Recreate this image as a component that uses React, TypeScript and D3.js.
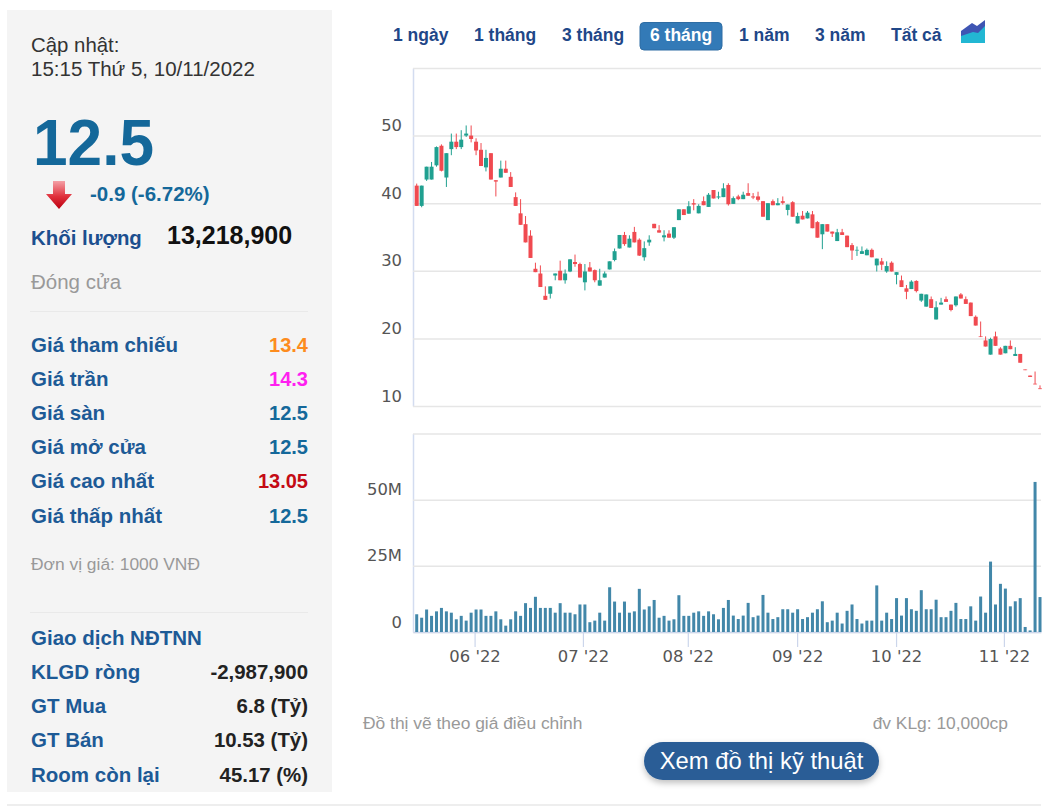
import { useEffect, useRef } from "react";
import * as d3 from "d3";

const opens = [
  42.6, 39.6, 43.5, 43.5, 45.6, 48.5, 43.8, 48.0, 49.1, 48.3,
  50.0, 50.0, 49.1, 47.9, 45.3, 47.4, 43.4, 43.8, 45.1, 43.9,
  40.9, 38.5, 36.9, 35.2, 30.3, 29.6, 26.3, 26.6, 29.3, 30.0,
  28.6, 29.9, 31.3, 31.0, 28.3, 30.5, 30.1, 27.8, 29.0, 30.2,
  31.6, 33.3, 35.3, 33.45, 35.75, 34.6, 32.0, 34.2, 36.95, 36.0,
  34.95, 35.5, 34.9, 37.5, 39.1, 38.45, 40.0, 38.5, 40.3, 39.45,
  41.95, 40.85, 40.9, 42.7, 39.9, 41.0, 40.6, 41.5, 41.0, 41.0,
  40.3, 37.5, 40.3, 39.7, 40.3, 39.0, 40.15, 37.0, 38.15, 37.75,
  38.35, 37.2, 35.4, 36.9, 35.8, 34.4, 35.7, 35.2, 33.8, 33.0,
  32.5, 32.3, 33.1, 30.8, 31.4, 29.9, 31.2, 29.4, 28.6, 27.4,
  27.3, 28.5, 25.6, 24.7, 25.8, 22.8, 25.0, 25.8, 25.0, 24.9,
  26.5, 25.8, 25.3, 23.2, 20.3, 19.7, 17.6, 20.3, 18.5, 17.8,
  18.9, 17.4, 17.7, 15.4, 14.5, 13.3, 12.6,
];
const closes = [
  39.6, 42.6, 45.4, 45.4, 48.3, 44.8, 47.4, 49.1, 48.3, 49.4,
  50.3, 49.5, 47.8, 45.5, 46.7, 43.5, 43.2, 45.1, 44.5, 42.4,
  39.6, 36.8, 34.2, 31.9, 29.8, 27.6, 25.7, 27.7, 29.6, 28.6,
  29.6, 31.7, 31.0, 29.0, 29.9, 29.9, 28.6, 28.6, 29.6, 31.4,
  32.9, 35.3, 33.95, 34.75, 34.2, 32.25, 33.35, 34.6, 36.3, 35.65,
  35.25, 34.9, 36.45, 39.1, 38.25, 39.55, 39.8, 39.6, 39.7, 41.25,
  40.7, 41.0, 42.2, 39.85, 40.75, 40.6, 41.25, 41.1, 40.85, 40.5,
  38.0, 40.0, 39.7, 40.0, 40.05, 39.8, 38.0, 38.1, 37.6, 38.6,
  36.3, 34.9, 36.9, 35.8, 35.5, 35.7, 35.3, 33.5, 33.0, 33.1,
  32.9, 33.1, 32.0, 31.8, 30.9, 30.7, 29.9, 29.8, 27.6, 26.9,
  28.4, 27.0, 26.6, 26.5, 24.5, 24.6, 25.3, 25.4, 24.2, 26.2,
  25.9, 25.1, 23.3, 21.9, 20.2, 18.8, 19.9, 18.9, 17.6, 18.9,
  18.4, 17.7, 16.4, 15.3, 14.3, 13.2, 12.5,
];
const highs = [
  42.9, 42.6, 45.4, 46.1, 48.4, 48.7, 47.4, 50.3, 50.3, 50.8,
  51.5, 51.5, 49.6, 48.9, 47.9, 47.4, 43.4, 46.3, 46.3, 44.6,
  41.6, 40.6, 38.1, 36.0, 31.2, 30.8, 27.7, 27.7, 29.6, 31.5,
  30.2, 31.7, 32.4, 31.2, 31.0, 31.3, 30.2, 30.3, 29.9, 31.4,
  33.3, 35.3, 35.75, 35.25, 36.5, 34.8, 34.35, 35.25, 36.95, 36.75,
  36.0, 36.0, 36.45, 39.1, 39.1, 40.3, 40.6, 39.85, 41.0, 41.5,
  41.95, 41.7, 42.95, 42.95, 41.0, 41.25, 41.7, 42.95, 41.5, 41.7,
  40.3, 40.0, 40.55, 40.75, 41.0, 39.8, 40.3, 38.6, 38.85, 38.85,
  38.85, 37.35, 36.9, 36.9, 35.8, 36.2, 36.2, 35.2, 34.1, 33.6,
  33.6, 33.3, 33.3, 31.8, 31.9, 31.4, 31.4, 29.8, 29.3, 27.9,
  28.6, 28.6, 26.6, 26.5, 26.2, 25.5, 26.0, 26.2, 25.0, 26.2,
  26.7, 26.2, 25.3, 23.4, 22.5, 20.3, 20.1, 21.0, 18.7, 18.9,
  19.7, 18.7, 17.7, 15.4, 14.5, 15.1, 13.05,
];
const lows = [
  39.6, 39.4, 43.3, 43.5, 45.4, 44.7, 42.4, 47.1, 48.0, 48.0,
  49.8, 49.0, 47.1, 45.5, 44.7, 43.5, 41.0, 43.8, 44.5, 42.4,
  39.6, 36.8, 34.2, 31.9, 29.8, 27.6, 25.7, 25.9, 28.6, 28.6,
  28.1, 29.8, 30.6, 29.0, 27.1, 29.9, 28.3, 27.8, 29.0, 30.2,
  31.4, 33.3, 33.7, 33.45, 34.2, 32.2, 31.5, 33.7, 36.3, 35.65,
  34.35, 34.9, 34.7, 37.5, 38.25, 38.45, 38.95, 38.5, 39.7, 39.45,
  40.7, 40.6, 40.9, 39.65, 39.9, 40.45, 40.6, 41.1, 40.6, 40.25,
  38.0, 37.5, 39.7, 39.7, 39.8, 38.2, 38.0, 37.0, 37.6, 37.75,
  36.3, 34.9, 33.2, 35.8, 35.0, 34.4, 35.3, 33.5, 31.6, 32.2,
  32.5, 32.3, 32.0, 29.9, 30.1, 29.7, 29.9, 28.0, 27.6, 25.8,
  27.3, 26.8, 25.4, 24.7, 24.5, 22.8, 25.0, 25.4, 24.0, 24.7,
  25.9, 25.1, 23.3, 21.9, 20.2, 18.8, 17.6, 18.9, 17.6, 17.8,
  18.4, 17.4, 16.4, 15.3, 14.3, 13.2, 12.5,
];
// million shares
const volumes = [
  6.7, 5.4, 8.5, 6.1, 7.8, 9.1, 7.8, 7.3, 4.8, 6.1,
  4.3, 7.3, 8.5, 8.5, 6.1, 6.1, 7.8, 4.8, 2.4, 4.8,
  7.8, 6.1, 10.9, 9.1, 13.3, 9.1, 9.1, 9.1, 7.3, 10.9,
  7.3, 7.3, 6.7, 10.4, 10.4, 3.7, 4.3, 7.3, 4.3, 16.9,
  11.5, 7.3, 11.5, 7.3, 7.8, 16.3, 8.5, 9.7, 12.1, 5.4,
  6.1, 4.3, 4.8, 13.9, 6.1, 6.1, 7.3, 7.8, 6.1, 7.8,
  6.7, 4.8, 9.1, 12.1, 6.2, 4.9, 6.2, 11, 5.6, 6.2,
  14, 7.3, 4.9, 5.6, 8.6, 8.6, 7.3, 8.6, 4.9, 5.6,
  7.3, 8.6, 11.6, 3.7, 4.3, 7.3, 3.2, 8, 10.4, 4.9,
  3.2, 4.3, 4.3, 17.6, 4.3, 7.3, 4.9, 12.8, 6.2, 12.8,
  8.6, 8, 15.8, 8.6, 8.6, 12.2, 5.6, 5.6, 8, 11,
  4.9, 4.9, 9.7, 4.3, 13.4, 7.3, 26.6, 10.4, 18.2, 16.4,
  9.7, 11.6, 12.8, 1.9, 0.6, 56.7, 13.2,
];

const priceTicks = [10, 20, 30, 40, 50, 60];
const volumeTicks = [0, 25, 50, 75];
const monthLabels = ["06 '22", "07 '22", "08 '22", "09 '22", "10 '22", "11 '22"];
const monthPositions = [11.7, 33.6, 54.8, 76.9, 96.9, 118.7];

const ranges = [
  { label: "1 ngày", x: 393 },
  { label: "1 tháng", x: 474 },
  { label: "3 tháng", x: 562 },
  { label: "6 tháng", x: 650 },
  { label: "1 năm", x: 739 },
  { label: "3 năm", x: 815 },
  { label: "Tất cả", x: 891 },
];
const priceRows = [
  ["Giá tham chiếu", "13.4", "#fd8c1e"],
  ["Giá trần", "14.3", "#ff1ff0"],
  ["Giá sàn", "12.5", "#14689a"],
  ["Giá mở cửa", "12.5", "#14689a"],
  ["Giá cao nhất", "13.05", "#c40a14"],
  ["Giá thấp nhất", "12.5", "#14689a"],
];
const priceRowY = [352, 386, 420, 454, 488, 523];
const foreignRows = [
  ["Giao dịch NĐTNN", ""],
  ["KLGD ròng", "-2,987,900"],
  ["GT Mua", "6.8 (Tỷ)"],
  ["GT Bán", "10.53 (Tỷ)"],
  ["Room còn lại", "45.17 (%)"],
];
const foreignRowY = [645, 679, 713, 747, 782];

const SANS = "'Liberation Sans', Arial, sans-serif";
const AXIS_FONT = "'DejaVu Sans', Verdana, sans-serif";
const UP = "#20a090";
const DOWN = "#f04a50";

export default function App() {
  const chartRef = useRef<SVGGElement>(null);

  useEffect(() => {
    if (!chartRef.current) return;
    const root = d3.select(chartRef.current);
    root.selectAll("*").remove();

    const x = d3.scaleLinear().domain([-0.75, 126.2]).range([413, 1041]);
    const yPrice = d3.scaleLinear().domain([10, 60]).range([406, 68]);
    const yVol = d3.scaleLinear().domain([0, 75]).range([632, 433.5]);
    const idx = d3.range(opens.length);

    /* price axis + grid */
    const priceAxis = d3.axisLeft(yPrice)
      .tickValues(priceTicks)
      .tickSize(-(1041 - 413))
      .tickSizeOuter(0)
      .tickPadding(11)
      .tickFormat((v: any) => (v === 60 ? "" : String(v)));
    const gp = root.append("g").attr("transform", "translate(413,0)").call(priceAxis as any);

    /* volume axis + grid */
    const volAxis = d3.axisLeft(yVol)
      .tickValues(volumeTicks)
      .tickSize(-(1041 - 413))
      .tickSizeOuter(0)
      .tickPadding(11)
      .tickFormat((v: any) => (v === 75 ? "" : v === 0 ? "0" : `${v}M`));
    const gv = root.append("g").attr("transform", "translate(413,0)").call(volAxis as any);

    [gp, gv].forEach((g) => {
      g.select(".domain").attr("stroke", "#d3dcf0").attr("stroke-width", 1.5);
      g.selectAll(".tick line").attr("stroke", "#e6e6e6").attr("stroke-width", 1.5);
      g.selectAll("text")
        .attr("dy", 0).attr("y", -5)
        .attr("font-family", AXIS_FONT).attr("font-size", 16.4).attr("fill", "#555");
    });

    /* month axis */
    const monthAxis = d3.axisBottom(x)
      .tickValues(monthPositions)
      .tickSize(15)
      .tickSizeOuter(0)
      .tickPadding(3.4)
      .tickFormat((_: any, i: number) => monthLabels[i]);
    const gx = root.append("g").attr("transform", "translate(0,632)").call(monthAxis as any);
    gx.select(".domain").attr("stroke", "#ccd6eb").attr("stroke-width", 1.5);
    gx.selectAll(".tick line").attr("stroke", "#ccd6eb").attr("stroke-width", 1.2);
    gx.selectAll("text").attr("font-family", AXIS_FONT).attr("font-size", 16.4).attr("fill", "#555");

    /* volume */
    root.append("g").selectAll("rect").data(idx).join("rect")
      .attr("x", (i) => x(i) - 1.5)
      .attr("width", 3)
      .attr("y", (i) => yVol(volumes[i]))
      .attr("height", (i) => yVol(0) - yVol(volumes[i]))
      .attr("fill", "#4287a9");

    /* candles */
    const candles = root.append("g").selectAll("g").data(idx).join("g");
    candles.append("line")
      .attr("x1", (i) => x(i)).attr("x2", (i) => x(i))
      .attr("y1", (i) => yPrice(highs[i])).attr("y2", (i) => yPrice(lows[i]))
      .attr("stroke", (i) => (closes[i] >= opens[i] ? UP : DOWN))
      .attr("stroke-width", 1);
    candles.append("rect")
      .attr("x", (i) => x(i) - 2)
      .attr("width", 4)
      .attr("y", (i) => yPrice(Math.max(opens[i], closes[i])))
      .attr("height", (i) => Math.abs(yPrice(opens[i]) - yPrice(closes[i])))
      .attr("fill", (i) => (closes[i] >= opens[i] ? UP : DOWN));
  }, []);

  const txt = { fontFamily: SANS };

  return (
    <svg
      width={1058}
      height={810}
      style={{ position: "absolute", left: 0, top: 0, display: "block", background: "#fff" }}
    >
      <defs>
        <linearGradient id="arrowFill" x1="0" y1="0" x2="0" y2="1">
          <stop offset="0" stopColor="#f4a0a6" />
          <stop offset="0.55" stopColor="#e0303c" />
          <stop offset="1" stopColor="#bb0010" />
        </linearGradient>
        <filter id="btnShadow" x="-10%" y="-30%" width="120%" height="170%">
          <feDropShadow dx="0" dy="3" stdDeviation="3" floodColor="#000" floodOpacity="0.25" />
        </filter>
      </defs>

      {/* left panel */}
      <rect x={7} y={10} width={325} height={782} fill="#f4f4f4" />
      <g style={txt}>
        <text x={31} y={52} fontSize={20.4} fill="#333">Cập nhật:</text>
        <text x={31} y={76} fontSize={20.5} fill="#333">15:15 Thứ 5, 10/11/2022</text>
        <text x={33} y={165} fontSize={65} fontWeight={700} fill="#14689a" textLength={121} lengthAdjust="spacingAndGlyphs">12.5</text>
        <path d="M53 181H65V194H72L59 209L46 194H53Z" fill="url(#arrowFill)" />
        <text x={90} y={201} fontSize={20.5} fontWeight={700} fill="#14689a">-0.9 (-6.72%)</text>
        <text x={31} y={245} fontSize={20.4} fontWeight={700} fill="#1c4f8f">Khối lượng</text>
        <text x={167} y={244} fontSize={25} fontWeight={700} fill="#111">13,218,900</text>
        <text x={31} y={289} fontSize={20.5} fill="#999">Đóng cửa</text>
        <line x1={30} x2={308} y1={311.5} y2={311.5} stroke="#e9e9e9" />
        {priceRows.map((r, i) => (
          <g key={r[0]}>
            <text x={31} y={priceRowY[i]} fontSize={20.5} fontWeight={700} fill="#1d5a96">{r[0]}</text>
            <text x={308} y={priceRowY[i]} fontSize={20} fontWeight={700} fill={r[2]} textAnchor="end">{r[1]}</text>
          </g>
        ))}
        <text x={31} y={570} fontSize={17.4} fill="#999">Đơn vị giá: 1000 VNĐ</text>
        <line x1={30} x2={308} y1={612.5} y2={612.5} stroke="#e9e9e9" />
        {foreignRows.map((r, i) => (
          <g key={r[0]}>
            <text x={31} y={foreignRowY[i]} fontSize={20.5} fontWeight={700} fill="#1d5a96">{r[0]}</text>
            <text x={308} y={foreignRowY[i]} fontSize={20.4} fontWeight={700} fill="#222" textAnchor="end">{r[1]}</text>
          </g>
        ))}
      </g>
      <line x1={7} x2={1041} y1={805} y2={805} stroke="#e9e9e9" strokeWidth={1.5} />

      {/* range selector */}
      <rect x={640} y={22.5} width={82} height={27.5} rx={4} fill="#337ab7" stroke="#2e6da4" />
      <g style={txt}>
        {ranges.map((r) => (
          <text
            key={r.label}
            x={r.x}
            y={41}
            fontSize={17.5}
            fontWeight={700}
            fill={r.label === "6 tháng" ? "#fff" : "#1f4788"}
          >
            {r.label}
          </text>
        ))}
      </g>
      <path d="M961 43V31L972 23L977 26L985 20V43Z" fill="#3f55b3" />
      <path d="M961 43V36L973 32L978 33L985 26V43Z" fill="#22b7d3" />

      <g ref={chartRef} />

      {/* footer */}
      <g style={txt}>
        <text x={363} y={729} fontSize={17.4} fill="#999">Đồ thị vẽ theo giá điều chỉnh</text>
        <text x={1008} y={729} fontSize={17.4} fill="#999" textAnchor="end">đv KLg: 10,000cp</text>
        <rect x={644} y={742} width={235} height={38} rx={19} fill="#2a5d96" filter="url(#btnShadow)" />
        <text x={761.5} y={769} fontSize={23.8} fill="#fff" textAnchor="middle">Xem đồ thị kỹ thuật</text>
      </g>
    </svg>
  );
}
